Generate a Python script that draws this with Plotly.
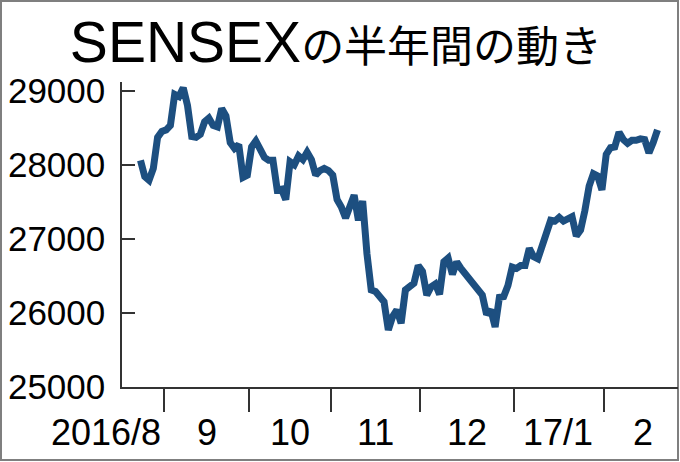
import plotly.graph_objects as go

# --- data ---
# SENSEX close, one value per trading day, 2016/8/24 .. 2017/2/17
sensex = [
    28060, 27840, 27790, 27950, 28370, 28450, 28470, 28530, 28950, 28920,
    29040, 28800, 28380, 28370, 28410, 28580, 28630, 28530, 28510, 28760,
    28660, 28300, 28220, 28270, 27830, 27860, 28240, 28320, 28210, 28100,
    28060, 28060, 27660, 27670, 27530, 28040, 28000, 28120, 28070, 28170,
    28070, 27860, 27920, 27950, 27920, 27860, 27530, 27430, 27280, 27450,
    27590, 27250, 27510, 26800, 26310, 26290, 26230, 26150, 25770, 25950,
    26040, 25860, 26310, 26350, 26400, 26640, 26560, 26240, 26350, 26390,
    26250, 26690, 26740, 26520, 26690, 26600, 26520, 26480, 26380, 26300,
    26240, 25980, 26040, 25810, 26210, 26220, 26370, 26620, 26600, 26640,
    26640, 26870, 26760, 26730, 26900, 27140, 27250, 27240, 27290, 27240,
    27260, 27300, 27040, 27120, 27380, 27710, 27880, 27850, 27660, 28140,
    28230, 28240, 28440, 28340, 28290, 28330, 28330, 28350, 28340, 28160,
    28300, 28470,
]
trading_day = list(range(len(sensex)))

# month boundaries (in trading-day index) and month labels
month_boundaries = [5.5, 25.5, 44.5, 65.5, 87.5, 108.5]
month_labels = ["2016/8", "9", "10", "11", "12", "17/1", "2"]
month_label_pos = [-8.1, 15.5, 35, 55, 76.5, 97.6, 117.6]

y_ticks = [25000, 26000, 27000, 28000, 29000]

title_html = ('<span style="font-family:Liberation Sans;font-size:57px">SENSEX</span>'
              'の半年間の動き')

# --- figure ---
W, H = 680, 462
ML, MR, MT, MB = 122, 2, 82, 75
PW, PH = W - ML - MR, H - MT - MB
X_RANGE = [-4.33, 125.8]

def to_paper_x(v):
    return (v - X_RANGE[0]) / (X_RANGE[1] - X_RANGE[0])

lab_font = "Liberation Sans, Arial"

fig = go.Figure()
fig.add_trace(go.Scatter(
    x=trading_day, y=sensex, mode="lines",
    line=dict(color="#1d4f80", width=7, shape="linear"),
    hoverinfo="skip", showlegend=False,
))

fig.update_layout(
    template="none",
    width=W, height=H,
    margin=dict(l=ML, r=MR, t=MT, b=MB, pad=0, autoexpand=False),
    paper_bgcolor="white", plot_bgcolor="white",
    showlegend=False,
    title=dict(
        text=title_html,
        x=336 / W, xanchor="center",
        y=1 - 47 / H, yanchor="middle",
        font=dict(family="Noto Sans CJK JP", size=43, color="black"),
        automargin=False,
    ),
    xaxis=dict(
        range=X_RANGE, automargin=False,
        showgrid=False, zeroline=False,
        showline=True, linecolor="#333333", linewidth=1.5,
        ticks="outside", ticklen=23, tickwidth=1.5, tickcolor="#333333",
        tickvals=month_boundaries, showticklabels=False,
        fixedrange=True,
    ),
    yaxis=dict(
        range=[25000, 29117], automargin=False,
        showgrid=False, zeroline=False,
        showline=True, linecolor="#333333", linewidth=1.5,
        ticks="inside", ticklen=13, tickwidth=1.5, tickcolor="#333333",
        tickvals=y_ticks, ticktext=[str(v) for v in y_ticks],
        tickfont=dict(family=lab_font, size=35, color="black"),
        ticklabelstandoff=8,
        fixedrange=True,
    ),
)

for lab, pos in zip(month_labels, month_label_pos):
    fig.add_annotation(
        x=to_paper_x(pos), xref="paper", y=-(432 - (MT + PH)) / PH, yref="paper",
        text=lab, showarrow=False, xanchor="center", yanchor="middle",
        font=dict(family=lab_font, size=36, color="black"),
    )

# outer frame of the graphic
fig.add_shape(
    type="rect", xref="paper", yref="paper",
    x0=(1 - ML) / PW, x1=(678 - ML) / PW,
    y0=-(460 - (MT + PH)) / PH, y1=1 + (MT - 1) / PH,
    line=dict(color="#7f7f7f", width=2), fillcolor="rgba(0,0,0,0)",
    layer="below",
)

fig.write_html(
    "out.html",
    config={"displayModeBar": False},
    post_script="document.body.style.margin='0';document.body.style.overflow='hidden';",
)
